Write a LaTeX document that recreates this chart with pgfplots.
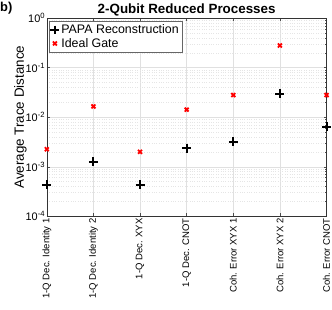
\documentclass[border=0pt]{standalone}
\usepackage{pgfplots}
\pgfplotsset{compat=1.18}
\usepackage{fontspec}
\setmainfont{Liberation Sans}
\begin{document}
\begin{tikzpicture}[x=1bp,y=1bp]
\begin{axis}[
  at={(47bp,94bp)}, anchor=south west,
  scale only axis, width=281bp, height=199bp,
  ymode=log, ymin=1e-4, ymax=1,
  xmin=1, xmax=7,
  xtick={1,2,3,4,5,6,7},
  xticklabels={1-Q Dec. Identity 1,1-Q Dec. Identity 2,1-Q Dec. XYX,1-Q Dec. CNOT,Coh. Error XYX 1,Coh. Error XYX 2,Coh. Error CNOT},
  xticklabel style={rotate=90, anchor=east, font=\fontsize{9.6}{10}\selectfont, inner sep=2pt},
  ytick={1e-4,1e-3,1e-2,1e-1,1},
  yticklabels={10\textsuperscript{-4},10\textsuperscript{-3},10\textsuperscript{-2},10\textsuperscript{-1},10\textsuperscript{0}},
  yticklabel style={font=\fontsize{11}{12}\selectfont, inner sep=1.5pt},
  ylabel={Average Trace Distance},
  ylabel style={font=\fontsize{13.5}{14}\selectfont, yshift=-6bp},
  title={\textbf{2-Qubit Reduced Processes}},
  title style={font=\fontsize{13.5}{14}\selectfont, yshift=-7bp},
  tick align=inside, tick style={black!70, thin},
  major tick length=3bp, minor tick length=1.5bp,
  xmajorgrids, ymajorgrids, yminorgrids,
  major grid style={black!12, thin},
  minor grid style={black!10, dotted, thin},
  axis line style={black!80, thin},
  clip=false,
  legend style={font=\fontsize{12.5}{13}\selectfont, draw=black!60, inner sep=1.5pt, row sep=-1pt, at={(0.007,0.985)}, anchor=north west},
  legend cell align=left,
]
\addplot[only marks, mark=+, mark size=4.5bp, line width=2bp, black] coordinates {
(1,4.3e-4) (2,1.27e-3) (3,4.3e-4) (4,2.35e-3) (5,3.2e-3) (6,3.0e-2) (7,6.4e-3)};
\addlegendentry{PAPA Reconstruction}
\addplot[only marks, mark=x, mark size=2.8bp, line width=1.8bp, red] coordinates {
(1,2.25e-3) (2,1.65e-2) (3,2.0e-3) (4,1.42e-2) (5,2.8e-2) (6,0.28) (7,2.8e-2)};
\addlegendentry{Ideal Gate}
\end{axis}
\node[anchor=north west, font=\fontsize{13}{14}\selectfont\bfseries, inner sep=0pt] at (0,309bp) {b)};
\path (0,0) rectangle (332bp,310bp);
\end{tikzpicture}
\end{document}
